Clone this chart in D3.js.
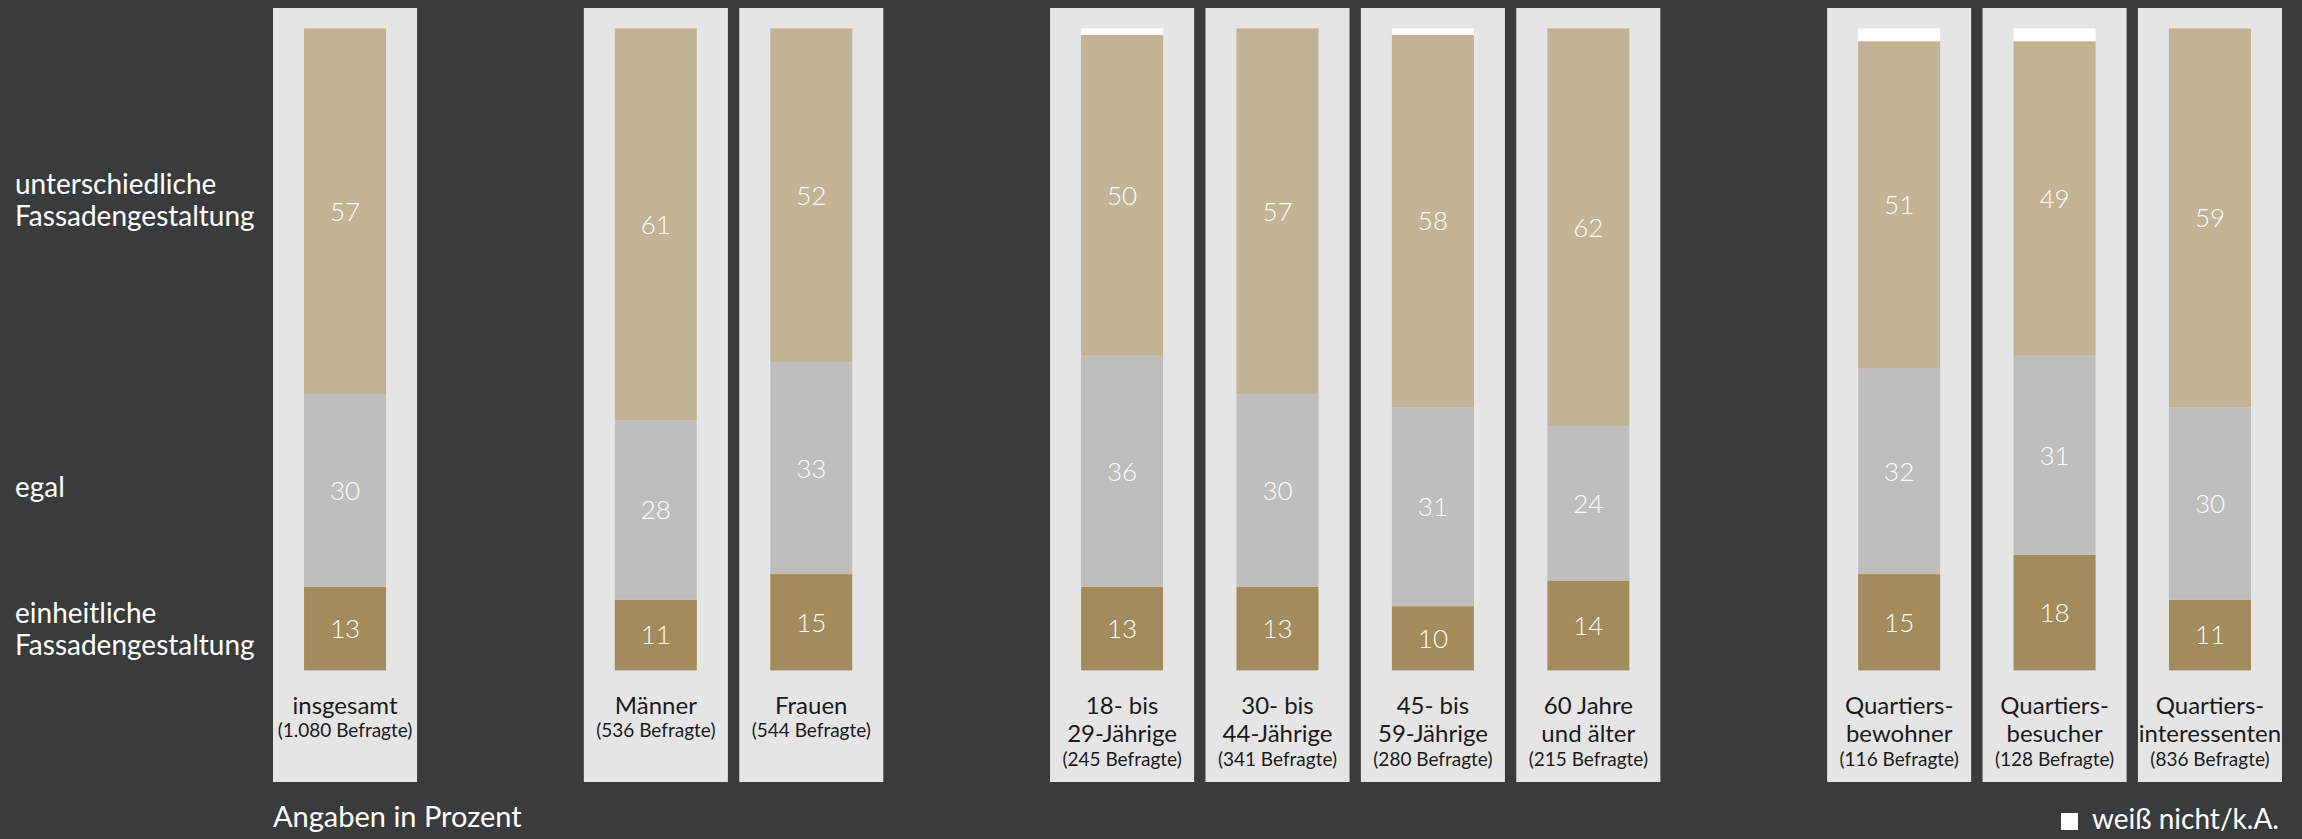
<!DOCTYPE html>
<html lang="de">
<head>
<meta charset="utf-8">
<script src="https://cdn.jsdelivr.net/npm/d3@7"></script>
<style>
  html, body { margin: 0; padding: 0; background: #3a3b3d; }
  svg { display: block; }
  text { font-family: Lato, "Open Sans", sans-serif; }
</style>
</head>
<body>
<svg id="chart" width="2302" height="839"></svg>
<script>
// Befragtengruppen (Spalten) und ihre Beschriftungszeilen
const categories = ["insgesamt", "Männer", "Frauen", "18-29", "30-44", "45-59", "60+",
                    "Quartiersbewohner", "Quartiersbesucher", "Quartiersinteressenten"];
const categoryLines = [["insgesamt"], ["Männer"], ["Frauen"],
                       ["18- bis", "29-Jährige"], ["30- bis", "44-Jährige"],
                       ["45- bis", "59-Jährige"], ["60 Jahre", "und älter"],
                       ["Quartiers-", "bewohner"], ["Quartiers-", "besucher"],
                       ["Quartiers-", "interessenten"]];
const respondents = [1080, 536, 544, 245, 341, 280, 215, 116, 128, 836];
const groupOf = [0, 1, 1, 2, 2, 2, 2, 3, 3, 3];

// Antworten in Prozent, von unten nach oben gestapelt
const einheitlich     = [13, 11, 15, 13, 13, 10, 14, 15, 18, 11];
const egal            = [30, 28, 33, 36, 30, 31, 24, 32, 31, 30];
const unterschiedlich = [57, 61, 52, 50, 57, 58, 62, 51, 49, 59];
const weissNicht      = [0, 0, 0, 1, 0, 1, 0, 2, 2, 0];

const seriesKeys   = ["einheitlich", "egal", "unterschiedlich", "weissNicht"];
const seriesColors = ["#a38b5c", "#bebebe", "#c2b394", "#ffffff"];
const rowLabels = [
  { key: "unterschiedlich", lines: ["unterschiedliche", "Fassadengestaltung"], shift: -11 },
  { key: "egal",            lines: ["egal"], shift: -4 },
  { key: "einheitlich",     lines: ["einheitliche", "Fassadengestaltung"], shift: 0 }
];

const rows = categories.map((c, i) => ({
  key: c, i,
  einheitlich: einheitlich[i], egal: egal[i],
  unterschiedlich: unterschiedlich[i], weissNicht: weissNicht[i]
}));

// Spaltenplätze mit je einer Lücke zwischen den Gruppen
const slots = [];
categories.forEach((c, i) => {
  if (i > 0 && groupOf[i] !== groupOf[i - 1]) slots.push("gap" + i);
  slots.push(c);
});

const svg = d3.select("#chart");

const x = d3.scaleBand().domain(slots).range([273, 2282]).paddingInner(0.073).paddingOuter(0);
const y = d3.scaleLinear().domain([0, 100]).range([670.4, 28.4]);
const barW = 82;
const panelTop = 8, panelBottom = 782;

const stack = d3.stack().keys(seriesKeys);
const stacked = stack(rows);
const color = d3.scaleOrdinal().domain(seriesKeys).range(seriesColors);

// Hintergrundfelder je Gruppe
svg.append("g").selectAll("rect")
  .data(rows)
  .join("rect")
  .attr("x", d => x(d.key))
  .attr("y", panelTop)
  .attr("width", x.bandwidth())
  .attr("height", panelBottom - panelTop)
  .attr("fill", "#e5e5e5");

// Gestapelte Balken
const barX = d => x(d.data.key) + (x.bandwidth() - barW) / 2;
const layers = svg.append("g").selectAll("g")
  .data(stacked)
  .join("g")
  .attr("fill", s => color(s.key));

layers.selectAll("rect")
  .data(s => s)
  .join("rect")
  .attr("x", barX)
  .attr("y", d => y(d[1]))
  .attr("width", barW)
  .attr("height", d => y(d[0]) - y(d[1]));

// Prozentwerte in den Segmenten
layers.filter(s => s.key !== "weissNicht")
  .selectAll("text")
  .data(s => s)
  .join("text")
  .attr("x", d => barX(d) + barW / 2)
  .attr("y", d => (y(d[0]) + y(d[1])) / 2)
  .attr("dy", "0.36em")
  .attr("text-anchor", "middle")
  .attr("fill", "#ffffff")
  .attr("font-size", 26)
  .attr("font-weight", 300)
  .text(d => d[1] - d[0]);

// Spaltenbeschriftung mit Anzahl der Befragten
const fmt = d3.formatLocale({ decimal: ",", thousands: ".", grouping: [3], currency: ["", "€"] }).format(",");
const labels = svg.append("g").selectAll("g")
  .data(rows)
  .join("g")
  .attr("transform", d => `translate(${x(d.key) + x.bandwidth() / 2},0)`);

labels.each(function (d) {
  const g = d3.select(this);
  const lines = categoryLines[d.i];
  const ys = lines.length === 1 ? [714] : [714, 742];
  lines.forEach((t, k) => {
    g.append("text")
      .attr("y", ys[k])
      .attr("text-anchor", "middle")
      .attr("fill", "#1a1a1a")
      .attr("font-size", 24)
      .text(t);
  });
  g.append("text")
    .attr("y", lines.length === 1 ? 737 : 766)
    .attr("text-anchor", "middle")
    .attr("fill", "#1a1a1a")
    .attr("font-size", 19)
    .text(`(${fmt(respondents[d.i])} Befragte)`);
});

// Zeilenbeschriftung links, auf Höhe der Segmente der ersten Spalte
rowLabels.forEach(r => {
  const layer = stacked.find(s => s.key === r.key);
  const seg = layer[0];
  const cy = (y(seg[0]) + y(seg[1])) / 2 + r.shift;
  const lineH = 32;
  const y0 = cy - (r.lines.length - 1) * lineH / 2;
  r.lines.forEach((t, k) => {
    svg.append("text")
      .attr("x", 15)
      .attr("y", y0 + k * lineH)
      .attr("dy", "0.36em")
      .attr("fill", "#ffffff")
      .attr("font-size", 28)
      .text(t);
  });
});

// Fußzeile und Legende
svg.append("text")
  .attr("x", 273)
  .attr("y", 827)
  .attr("fill", "#ffffff")
  .attr("font-size", 29)
  .text("Angaben in Prozent");

const legend = svg.append("g").attr("transform", "translate(2061,813)");
legend.append("rect").attr("width", 17).attr("height", 17).attr("fill", "#ffffff");
legend.append("text")
  .attr("x", 31)
  .attr("y", 16)
  .attr("fill", "#ffffff")
  .attr("font-size", 28)
  .text("weiß nicht/k.A.");
</script>
</body>
</html>
